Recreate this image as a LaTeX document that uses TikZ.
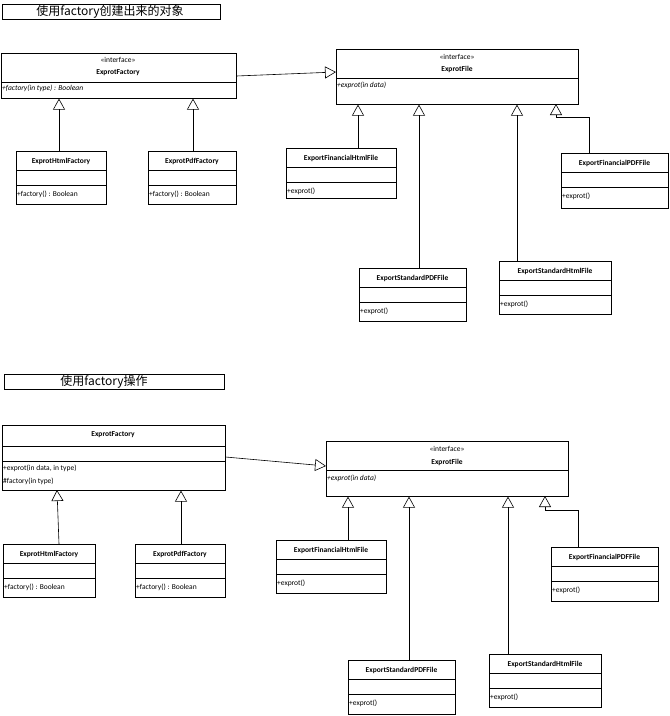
\documentclass[tikz,border=0pt]{standalone}
\usepackage{fontspec}
\setmainfont{Carlito}
\newfontfamily\cjk{Noto Sans CJK SC}
\usetikzlibrary{arrows.meta}
\tikzset{
  bx/.style={draw,line width=0.6pt,inner sep=0pt},
  gen/.style={line width=0.6pt,-{Triangle[open,length=11pt,width=12pt]}},
  tx/.style={font=\fontsize{7.5}{9}\selectfont,inner sep=1pt},
}
% \cls{name}{x1}{y1}{x2}{y2}
\newcommand{\mkbox}[5]{\node[bx,minimum width={#4-#2},minimum height={#5-#3},anchor=north west] (#1) at (#2,#3) {};}
\newcommand{\hsep}[3]{\draw[line width=0.6pt] (#1,#3) -- (#2,#3);}
\begin{document}
\begin{tikzpicture}[x=1pt,y=-1pt]
\useasboundingbox (0,0) rectangle (670,716);
% titles
\node[bx,minimum width=218,minimum height=15,anchor=north west] (t1) at (2,4) {};
\node[inner sep=0,font=\cjk\fontsize{12}{13}\selectfont] (t1t) at (110,11.5) {使用factory创建出来的对象};
\node[bx,minimum width=220,minimum height=15,anchor=north west] (t2) at (4,374) {};
\node[inner sep=0,font=\cjk\fontsize{12}{13}\selectfont] (t2t) at (104,381.5) {使用factory操作};

% ===== top =====
\mkbox{f1}{1}{53}{236}{98}
\hsep{1}{236}{82}
\node[tx] (f1s) at (118,60) {<<interface>>};
\node[tx,font=\fontsize{7.5}{9}\selectfont\bfseries] (f1n) at (118,73) {ExprotFactory};
\node[tx,anchor=west,font=\fontsize{7.5}{9}\selectfont\itshape] (f1m) at (1,88) {+factory(in type) : Boolean};

\mkbox{e1}{336}{49}{578}{104}
\hsep{336}{578}{78}
\node[tx] (e1s) at (457,57) {<<interface>>};
\node[tx,font=\fontsize{7.5}{9}\selectfont\bfseries] (e1n) at (457,69) {ExprotFile};
\node[tx,anchor=west,font=\fontsize{7.5}{9}\selectfont\itshape] (e1m) at (336,85) {+exprot(in data)};

\newcommand{\sub}[8]{% name x1 y1 x2 y2 title method
  \mkbox{#1}{#2}{#3}{#4}{#5}
  \hsep{#2}{#4}{#3+19}\hsep{#2}{#4}{#3+34}
  \node[tx,font=\fontsize{7.5}{9}\selectfont\bfseries] (#1n) at ({(#2+#4)/2},#3+10) {#6};
  \node[tx,anchor=west] (#1m) at (#2,#3+43) {#7};
  \coordinate (#1c) at (#8,#3);
}
\sub{h1}{16}{151}{106}{204}{ExprotHtmlFactory}{+factory() : Boolean}{59}
\sub{p1}{148}{151}{236}{204}{ExprotPdfFactory}{+factory() : Boolean}{193}
\sub{a1}{286}{148}{396}{198}{ExportFinancialHtmlFile}{+exprot()}{358}
\sub{b1}{359}{268}{466}{321}{ExportStandardPDFFile}{+exprot()}{419}
\sub{c1}{499}{261}{611}{314}{ExportStandardHtmlFile}{+exprot()}{517}
\sub{d1}{561}{153}{668}{208}{ExportFinancialPDFFile}{+exprot()}{589}

\draw[gen] (f1.east |- 0,76) -- (e1.west |- 0,72);
\draw[gen] (h1c) -- (h1c |- f1.south);
\draw[gen] (p1c) -- (p1c |- f1.south);
\draw[gen] (a1c) -- (a1c |- e1.south);
\draw[gen] (b1c) -- (b1c |- e1.south);
\draw[gen] (c1c) -- (c1c |- e1.south);
\draw[gen] (d1c) -- (589,117) -- (556,117) -- (556,104);

% ===== bottom =====
\mkbox{f2}{2}{425}{225}{490}
\hsep{2}{225}{446}\hsep{2}{225}{461}
\node[tx,font=\fontsize{7.5}{9}\selectfont\bfseries] (f2n) at (113,435) {ExprotFactory};
\node[tx,anchor=west] (f2m1) at (2,468) {+exprot(in data, in type)};
\node[tx,anchor=west] (f2m2) at (2,481) {\#factory(in type)};

\mkbox{e2}{326}{441}{568}{496}
\hsep{326}{568}{470}
\node[tx] (e2s) at (447,449) {<<interface>>};
\node[tx,font=\fontsize{7.5}{9}\selectfont\bfseries] (e2n) at (447,462) {ExprotFile};
\node[tx,anchor=west,font=\fontsize{7.5}{9}\selectfont\itshape] (e2m) at (326,478) {+exprot(in data)};

\sub{h2}{3}{544}{95}{597}{ExprotHtmlFactory}{+factory() : Boolean}{59}
\sub{p2}{135}{544}{225}{597}{ExprotPdfFactory}{+factory() : Boolean}{181}
\sub{a2}{276}{540}{386}{593}{ExportFinancialHtmlFile}{+exprot()}{348}
\sub{b2}{348}{660}{455}{714}{ExportStandardPDFFile}{+exprot()}{409}
\sub{c2}{489}{654}{601}{707}{ExportStandardHtmlFile}{+exprot()}{508}
\sub{d2}{551}{547}{658}{601}{ExportFinancialPDFFile}{+exprot()}{578}

\draw[gen] (f2.east |- 0,457) -- (e2.west |- 0,466);
\draw[gen] (h2c) -- (57,490);
\draw[gen] (p2c) -- (p2c |- f2.south);
\draw[gen] (a2c) -- (a2c |- e2.south);
\draw[gen] (b2c) -- (b2c |- e2.south);
\draw[gen] (c2c) -- (c2c |- e2.south);
\draw[gen] (d2c) -- (578,510) -- (545,510) -- (545,496);
\end{tikzpicture}
\end{document}
